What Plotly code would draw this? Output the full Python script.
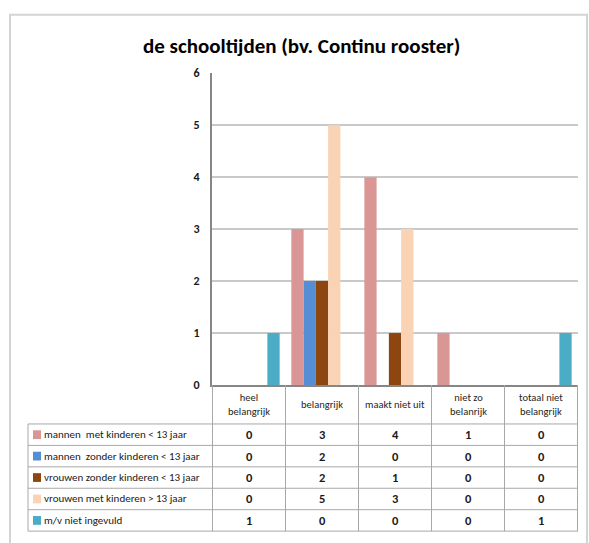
import plotly.graph_objects as go

W, H = 589, 543

categories = ["heel belangrijk", "belangrijk", "maakt niet uit", "niet zo belanrijk", "totaal niet belangrijk"]
header_labels = ["heel<br>belangrijk", "belangrijk", "maakt niet uit", "niet zo<br>belanrijk", "totaal niet<br>belangrijk"]
series_names = [
    "mannen  met kinderen < 13 jaar",
    "mannen  zonder kinderen < 13 jaar",
    "vrouwen zonder kinderen < 13 jaar",
    "vrouwen met kinderen > 13 jaar",
    "m/v niet ingevuld",
]
mannen_met = [0, 3, 4, 1, 0]
mannen_zonder = [0, 2, 0, 0, 0]
vrouwen_zonder = [0, 2, 1, 0, 0]
vrouwen_met = [0, 5, 3, 0, 0]
niet_ingevuld = [1, 0, 0, 0, 1]
series_values = [mannen_met, mannen_zonder, vrouwen_zonder, vrouwen_met, niet_ingevuld]
colors = ["#D99694", "#558ED5", "#8E4611", "#FAD3B5", "#4BACC6"]
y_ticks = [0, 1, 2, 3, 4, 5, 6]
title_text = "de schooltijden (bv. Continu rooster)"

FONT = "Carlito, 'Liberation Sans Narrow', 'Arial Narrow', Roboto, sans-serif"

def px(x):
    return x / W

def py(y):
    return 1 - y / H

# plot area in pixels
L, R, T, B = 212, 578, 68, 388

fig = go.Figure()
for name, vals, c in zip(series_names, series_values, colors):
    fig.add_trace(go.Bar(x=categories, y=vals, name=name, marker=dict(color=c, line=dict(width=0))))

shapes = []
annotations = []

# outer frame
shapes.append(dict(type="rect", xref="paper", yref="paper", x0=px(10), x1=px(587), y0=py(8), y1=py(560),
                   line=dict(color="#d4d4d4", width=2), fillcolor="rgba(0,0,0,0)", layer="below"))

grid_col = "#a8a8a8"
# table horizontal lines
row_top = 428
row_h = 22
for i in range(len(series_names) + 1):
    y = row_top + i * row_h
    shapes.append(dict(type="line", xref="paper", yref="paper", x0=px(28), x1=px(R), y0=py(y), y1=py(y),
                       line=dict(color=grid_col, width=1)))
# left border of table row labels
shapes.append(dict(type="line", xref="paper", yref="paper", x0=px(28), x1=px(28), y0=py(row_top),
                   y1=py(row_top + row_h * len(series_names)), line=dict(color=grid_col, width=1)))
# vertical column lines at category boundaries
for i in range(len(categories) + 1):
    shapes.append(dict(type="line", xref="x", yref="paper", x0=i - 0.5, x1=i - 0.5, y0=py(B),
                       y1=py(row_top + row_h * len(series_names)), line=dict(color=grid_col, width=1)))

# header labels
for cat, lab in zip(categories, header_labels):
    annotations.append(dict(x=cat, xref="x", y=py(408), yref="paper", text=lab, showarrow=False,
                            font=dict(family=FONT, size=10.5, color="#262626"), xanchor="center", yanchor="middle"))

# rows: legend keys, names, values
for r, (name, vals, c) in enumerate(zip(series_names, series_values, colors)):
    yc = row_top + r * row_h + row_h / 2
    shapes.append(dict(type="rect", xref="paper", yref="paper", x0=px(33), x1=px(41), y0=py(yc - 4.5), y1=py(yc + 4.5),
                       line=dict(width=0), fillcolor=c))
    annotations.append(dict(x=px(42), xref="paper", y=py(yc), yref="paper", text=name.replace("  ", "&nbsp; "),
                            showarrow=False, font=dict(family=FONT, size=11, color="#1a1a1a"),
                            xanchor="left", yanchor="middle"))
    for cat, v in zip(categories, vals):
        annotations.append(dict(x=cat, xref="x", y=py(yc), yref="paper", text=f"<b>{v}</b>", showarrow=False,
                                font=dict(family=FONT, size=12.5, color="#1a1a1a"), xanchor="center", yanchor="middle"))

# title
annotations.append(dict(x=px(301), xref="paper", y=py(40), yref="paper", text=f"<b>{title_text}</b>",
                        showarrow=False, font=dict(family=FONT, size=21, color="#000000"),
                        xanchor="center", yanchor="middle"))

fig.update_layout(
    width=W, height=H, autosize=False,
    margin=dict(l=0, r=0, t=0, b=0, pad=0),
    paper_bgcolor="white", plot_bgcolor="white",
    barmode="group", bargap=0.16, bargroupgap=0,
    showlegend=False,
    shapes=shapes, annotations=annotations,
    xaxis=dict(domain=[px(L), px(R)], showticklabels=False, ticks="", showline=True, linecolor="#868686",
               linewidth=2, showgrid=False, zeroline=False, fixedrange=True),
    yaxis=dict(domain=[py(B), py(T)], range=[0, 6], tickvals=y_ticks, showline=True, linecolor="#868686",
               linewidth=2, showgrid=True, gridcolor="#c9c9c9", gridwidth=2, zeroline=False, ticks="",
               tickfont=dict(family=FONT, size=12, color="#1a1a1a", weight="bold"), ticklabelstandoff=8),
)

fig.write_html("out.html", config=dict(displayModeBar=False, responsive=False),
               post_script="document.body.style.margin='0px'; document.body.style.overflow='hidden';")
